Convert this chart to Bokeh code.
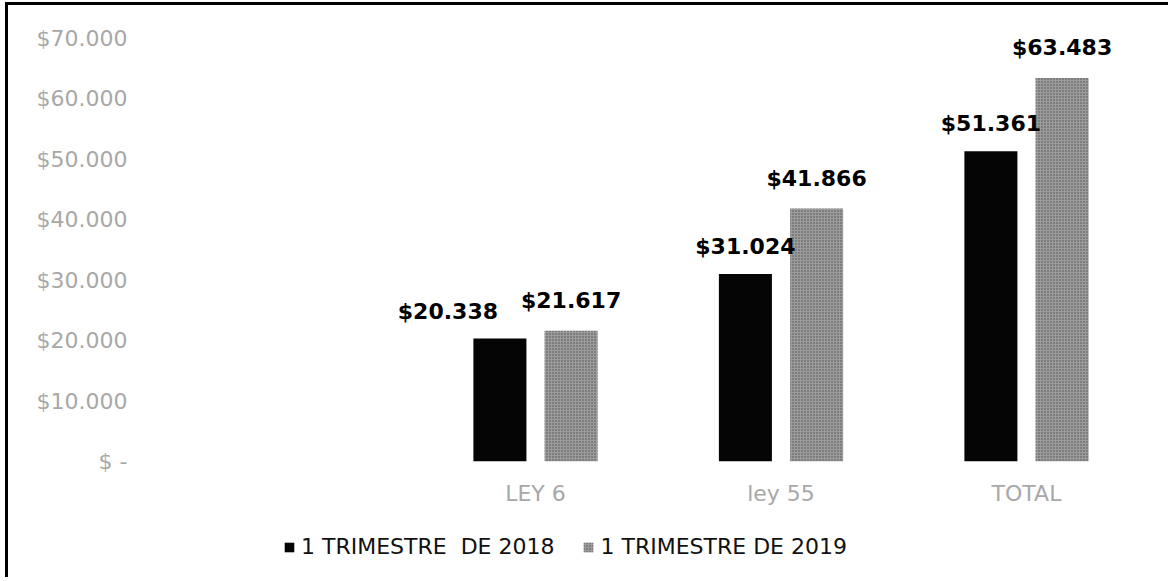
from bokeh.plotting import figure
from bokeh.layouts import column
from bokeh.models import ColumnDataSource, Range1d, FixedTicker, Legend, LegendItem
from bokeh.core.properties import value
from bokeh.embed import file_html
from bokeh.resources import INLINE

# ---- data ----
categories = ["LEY 6", "ley 55", "TOTAL"]
series_names = ["1 TRIMESTRE  DE 2018", "1 TRIMESTRE DE 2019"]
values_2018 = [20338, 31024, 51361]
values_2019 = [21617, 41866, 63483]
labels_2018 = ["$20.338", "$31.024", "$51.361"]
labels_2019 = ["$21.617", "$41.866", "$63.483"]
y_tick_values = [0, 10000, 20000, 30000, 40000, 50000, 60000, 70000]
y_tick_labels = ["$ -", "$10.000", "$20.000", "$30.000", "$40.000", "$50.000", "$60.000", "$70.000"]

# ---- style ----
label_shift_2018 = [-52, 0, 0]   # screen px shift of data labels (as in original)
bar_w = 0.216
offset = 0.145
dark_style = dict(fill_color="#050505", line_color=None)
gray_style = dict(fill_color="#9c9c9c", line_color=None, hatch_pattern="dot",
                  hatch_color="#3a3a3a", hatch_scale=3, hatch_alpha=0.8)

idx = list(range(len(categories)))
src18 = ColumnDataSource(dict(x=[i - offset for i in idx], top=values_2018,
                              lab=labels_2018, dx=label_shift_2018))
src19 = ColumnDataSource(dict(x=[i + offset for i in idx], top=values_2019,
                              lab=labels_2019))

W = 1160
x_rng = (-1.5886, 2.5051)
p = figure(width=W, height=510, output_backend="svg", toolbar_location=None,
           x_range=Range1d(*x_rng), y_range=Range1d(0, 70000),
           min_border_left=137, min_border_right=18, min_border_top=33,
           min_border_bottom=54)
p.outline_line_color = None
p.xgrid.visible = False
p.ygrid.visible = False

r18 = p.vbar(x="x", top="top", width=bar_w, source=src18, **dark_style)
r19 = p.vbar(x="x", top="top", width=bar_w, source=src19, **gray_style)

for src, yo in ((src18, -15), (src19, -18)):
    p.text(x="x", y="top", text="lab", source=src, y_offset=yo,
           x_offset="dx" if src is src18 else 0,
           text_align="center", text_baseline="bottom",
           text_font=value("DejaVu Sans"), text_font_style="bold",
           text_font_size="22px", text_color="#000000")

# axes
p.xaxis.ticker = FixedTicker(ticks=idx)
p.xaxis.major_label_overrides = {i: c for i, c in zip(idx, categories)}
p.yaxis.ticker = FixedTicker(ticks=y_tick_values)
p.yaxis.major_label_overrides = {v: l for v, l in zip(y_tick_values, y_tick_labels)}
for ax in (p.xaxis, p.yaxis):
    ax.axis_line_color = None
    ax.major_tick_line_color = None
    ax.minor_tick_line_color = None
    ax.major_label_text_font = "DejaVu Sans"
    ax.major_label_text_font_size = "22px"
    ax.major_label_text_color = "#a8a8a8"
p.yaxis.major_label_standoff = 12
p.xaxis.major_label_standoff = 13

# legend strip below the chart: same sources, degenerate (zero-size) bars
p2 = figure(width=W, height=62, output_backend="svg", toolbar_location=None,
            x_range=Range1d(*x_rng), y_range=Range1d(-300000, -200000),
            min_border=0)
p2.axis.visible = False
p2.grid.visible = False
p2.outline_line_color = None
e18 = p2.vbar(x="x", top="top", bottom="top", width=0, source=src18, **dark_style)
e19 = p2.vbar(x="x", top="top", bottom="top", width=0, source=src19, **gray_style)
legend = Legend(items=[LegendItem(label=series_names[0], renderers=[e18], index=0),
                       LegendItem(label=series_names[1], renderers=[e19], index=0)],
                orientation="horizontal", location=(138, 18),
                glyph_width=12, glyph_height=12, label_standoff=6, spacing=28,
                padding=4, margin=0, border_line_color=None,
                label_text_font="DejaVu Sans", label_text_font_size="22px",
                label_text_color="#111111", background_fill_alpha=0)
p2.add_layout(legend, "center")

layout = column(p, p2, spacing=0)
layout.styles = {"border-left": "3px solid #000", "border-top": "3px solid #000",
                 "margin-left": "5px", "margin-top": "2px"}

open("out.html", "w").write(file_html(layout, INLINE))
